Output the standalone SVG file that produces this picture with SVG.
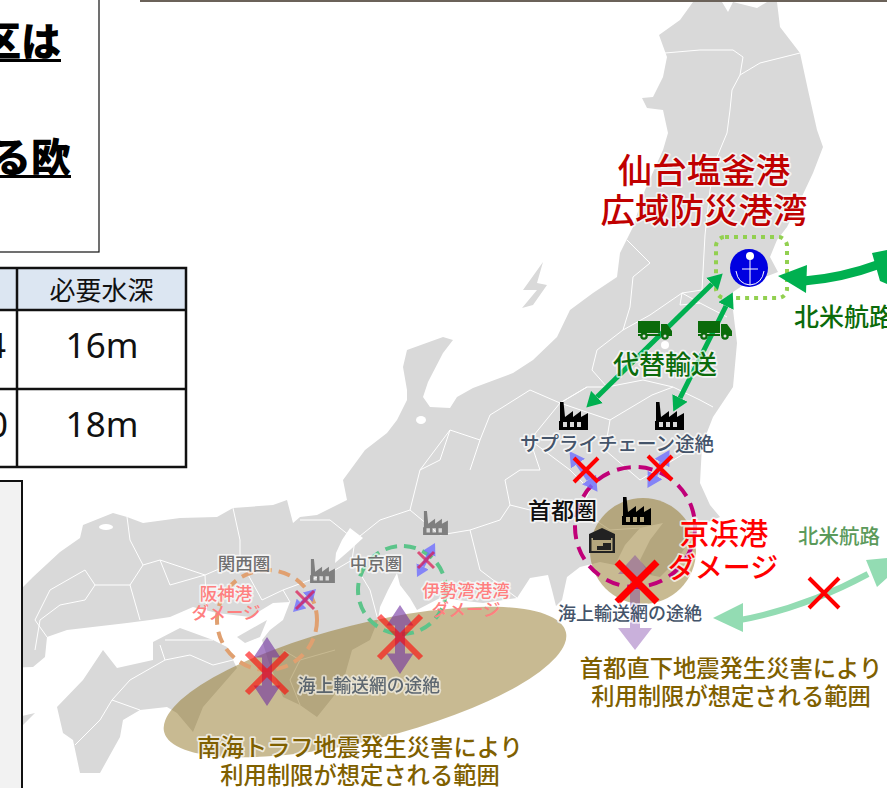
<svg xmlns="http://www.w3.org/2000/svg" width="887" height="788" viewBox="0 0 887 788">
<style>
text{font-family:"Noto Sans CJK JP","Noto Sans",sans-serif}
#labels text{font-weight:500}
.h{paint-order:stroke;stroke:#fff;stroke-opacity:.7;stroke-width:3.500px;stroke-linejoin:round}
.pref{fill:none;stroke:#fff;stroke-width:1;stroke-linejoin:round}
.tb{stroke:#111;stroke-width:2.5;fill:none}
.red{fill:#c00000;font-size:34.500px}
.dg{fill:#0b6b0b}
.sl{fill:#44546a}
.br{fill:#7f6000;font-size:23.300px}
.pk{fill:#ff7f7f;font-size:17.500px}
.gy{fill:#6f6f6f;font-size:17.500px}
.x{stroke:#f00;fill:none}
.ga{stroke:#00b050;stroke-width:5;fill:none;marker-start:url(#mg);marker-end:url(#mg)}
.ba{stroke:#6f6fff;stroke-width:5;fill:none;marker-start:url(#mb);marker-end:url(#mb)}
.ba.s{stroke-width:4}
</style>
<defs>
<filter id="soft" x="-2%" y="-2%" width="104%" height="104%"><feGaussianBlur stdDeviation=".5"/></filter>
<marker id="mg" viewBox="0 0 3 3.4" refX="0" refY="1.7" markerWidth="3" markerHeight="3.4" orient="auto-start-reverse"><path d="M0 0L3 1.7L0 3.4Z" fill="#00b050"/></marker>
<marker id="mb" viewBox="0 0 3 3.4" refX="0" refY="1.7" markerWidth="3" markerHeight="3.4" orient="auto-start-reverse"><path d="M0 0L3 1.7L0 3.4Z" fill="#6f6fff"/></marker>
<symbol id="factory" viewBox="0 0 29 28" overflow="visible"><path fill-rule="evenodd" d="M1 0H4.500L6 15L14 9V15L22 9V15L29 11V28H0V19H1ZM4 20V25H8V20ZM11 20V25H15V20ZM18 20V25H22V20Z"/></symbol>
<symbol id="truck" viewBox="0 0 34 19" overflow="visible"><path d="M0 0H22V12H0ZM0 13H22V15H0ZM23 3H29L34 10V15H23Z"/><circle cx="6" cy="15" r="3.800"/><circle cx="27" cy="15" r="3.800"/><circle cx="6" cy="15" r="1.500" fill="#ddd"/><circle cx="27" cy="15" r="1.500" fill="#ddd"/></symbol>
<path id="dbl" d="M0 -34.500L13.500 -14H5V14H13.500L0 34.500L-13.500 14H-5V-14H-13.500Z"/>
</defs>
<rect id="topbar" x="140" y="0" width="747" height="2" fill="#6b6259"/>
<g id="map" filter="url(#soft)">
<path fill="#d9d9d9" d="M693 2L722 2L728 12L733 2L757 8L767 2L777 2L780 27L800 53L808 90L817 130L823 147L813 173L797 207L787 227L777 240L770 257L778 272L765 277L745 284L733 292L733 310L737 343L733 387L713 417L702 445L700 483L710 505L720 517L697 527L690 540L677 560L660 577L650 575L640 560L650 540L663 523L640 528L625 545L615 565L600 562L580 567L567 577L562 600L556 606L552 590L548 575L530 578L517 598L483 603L440 598L417 610L410 598L400 585L397 573L388 590L380 607L378 620L370 640L352 650L345 675L333 697L317 717L300 705L283 697L268 660L262 640L270 630L283 620L290 602L273 603L250 617L217 613L193 607L170 617L150 620L127 623L67 630L47 637L45 657L33 667L0 668L0 590L23 587L33 577L60 552L80 538L83 525L113 513L127 517L143 523L180 518L217 517L233 508L273 505L287 500L293 523L300 517L317 515L347 500L343 480L365 450L387 433L397 420L407 400L407 390L403 367L407 350L443 337L453 340L443 353L428 382L423 397L430 407L450 408L457 397L473 388L513 373L533 360L557 337L570 310L593 293L617 277L620 253L633 227L645 190L663 150L668 133L663 110L647 108L642 98L653 97L663 77L667 57L659 35L680 20Z"/>
<path fill="#d9d9d9" d="M103 650L117 668L153 660L153 642L180 628L213 640L227 647L233 660L237 668L203 707L193 732L177 713L167 707L140 710L123 720L120 737L100 773L80 773L73 740L63 733L57 707L83 680Z"/>
<path fill="#d9d9d9" d="M237 637L267 620L260 637L245 643Z"/>
<path fill="#d9d9d9" d="M543 262L523 290L537 290L522 308L533 305L547 285L537 283Z"/>
<path fill="#d9d9d9" d="M22 716L35 713L22 726Z"/>
<path fill="#fff" d="M350 528L363 538L350 550L335 563L336 553L342 540Z"/>
<ellipse cx="106" cy="527" rx="7" ry="3" fill="#fff"/>
<ellipse cx="421" cy="420" rx="5" ry="4" fill="#fff"/>
<ellipse cx="665" cy="345" rx="4" ry="4" fill="#fff"/>
<path class="pref" d="M665 53L700 50L733 50L743 57L740 75L760 63L800 53M740 75L732 90L730 110L727 133L717 157L710 190L705 235L702 290L682 293L700 303L727 317M682 293L680 305L700 303M627 240L650 263L633 277L630 307L623 330L597 350L592 370L607 387L643 380L673 387L700 400L713 407M623 330L650 315L682 293M607 387L587 387L560 403L530 390L503 407L490 415L480 440L470 470M587 387L560 403L530 440L540 470L520 470L505 480L510 505M560 403L610 420L605 450L640 480M610 420L652 395L673 387M640 480L690 450M530 440L570 470L590 490L580 510M480 440L450 430L440 460L420 470L410 510M450 430L420 470M410 510L440 535L470 530L480 570L517 598M470 530L500 520L510 505L530 510L580 510L610 530L640 528M410 510L380 520L355 540L352 560L370 590L378 620M352 560L335 570L310 580L283 590L262 600M283 590L290 602M355 540L330 520L300 520M262 600L240 560L240 540L233 508M240 560L205 575L207 620M205 575L170 585L160 560L143 565L130 540L127 517M143 565L130 585L140 620M160 560L205 575M130 585L95 585L85 600L60 605L40 620L35 650M35 620L47 637M95 585L85 570L50 590L35 620M165 640L213 640M160 645L165 660L190 655L213 665L233 660M165 660L130 680L112 700L100 720L75 745M112 700L140 710M283 650L300 660L290 680L300 705M300 660L335 650"/>
</g>
<g id="zones">
<ellipse id="nankai-zone" cx="365" cy="682" rx="207" ry="58" transform="rotate(-14 365 682)" fill="#8a6c17" fill-opacity=".47"/>
<circle id="tokyo-zone" cx="643" cy="551" r="53" fill="#8a6c17" fill-opacity=".47"/>
<circle id="keihin-ring" cx="635" cy="527" r="60" fill="none" stroke="#c00078" stroke-width="4" stroke-dasharray="14 8"/>
<circle id="hanshin-ring" cx="267" cy="620" r="50" fill="none" stroke="#e0a070" stroke-width="4" stroke-dasharray="12 7"/>
<circle id="ise-ring" cx="402" cy="590" r="44" fill="none" stroke="#5cc48a" stroke-width="4" stroke-dasharray="12 7"/>
<rect id="sendai-ring" x="716" y="237" width="71" height="61" rx="9" fill="none" stroke="#92d050" stroke-width="4" stroke-dasharray="4 5"/>
</g>
<g id="connectors">
<path class="ga" d="M712 284L597 397"/>
<path class="ga" d="M726 306L680 398"/>
<path d="M804 281Q842 278 880 264" fill="none" stroke="#00b050" stroke-width="9"/>
<path d="M778 276L807 265L806 293Z" fill="#00b050"/>
<path d="M872 253L887 250V284L880 281Z" fill="#00b050"/>
<path d="M740 620Q805 608 868 574" fill="none" stroke="#93dcb3" stroke-width="6"/>
<path d="M713 618L743 603L743 632Z" fill="#93dcb3"/>
<path d="M866 560L887 558V578L877 587Z" fill="#93dcb3"/>
<g opacity=".8">
<path class="ba" d="M578 463.500L589 479.500"/>
<path class="ba" d="M662 463L655 475"/>
<path class="ba s" d="M301.500 603.500L307.500 597.500"/>
<path class="ba s" d="M422.600 566.400L429.400 553.600"/>
</g>
<use href="#dbl" transform="translate(267 671.500)" fill="#7030a0" fill-opacity=".6"/>
<use href="#dbl" transform="translate(400 639.500)" fill="#7030a0" fill-opacity=".6"/>
<path id="tokyo-sea-arrow" d="M635 555L652 574H640V628H652L635 650L618 628H630V574H618Z" fill="#7030a0" fill-opacity=".38"/>
</g>
<g id="crosses">
<path class="x" stroke-width="7" d="M617 562L657 602M657 562L617 602"/>
<path class="x" stroke-width="4" d="M574 458L598 482M598 458L574 482"/>
<path class="x" stroke-width="4" d="M648 456L672 480M672 456L648 480"/>
<path class="x" stroke-width="4" d="M809 578L839 608M839 578L809 608"/>
<path class="x" stroke-width="6" opacity=".6" d="M247 653L287 693M287 653L247 693"/>
<path class="x" stroke-width="6" opacity=".6" d="M379 616L421 658M421 616L379 658"/>
<path stroke="#dc1450" fill="none" stroke-width="3" opacity=".7" d="M296 591L314 609M314 591L296 609"/>
<path stroke="#dc1450" fill="none" stroke-width="3" opacity=".7" d="M418 552L434 568M434 552L418 568"/>
</g>
<g id="port-sendai">
<circle cx="749" cy="268" r="19" fill="#0000e0"/>
<circle cx="750" cy="256" r="4" fill="#fff"/>
<path d="M750 258V285M742 269H758M736 271Q738 284 750 285Q762 284 764 271" fill="none" stroke="#fff" stroke-width="1"/>
</g>
<g id="factories">
<use href="#factory" x="559" y="402" width="29" height="28"/>
<use href="#factory" x="655" y="402" width="29" height="28"/>
<use href="#factory" x="622" y="497" width="29" height="28"/>
<use href="#factory" x="423" y="511" width="25" height="24" fill="#7f7f7f"/>
<use href="#factory" x="310" y="559" width="25" height="24" fill="#7f7f7f"/>
</g>
<g id="warehouse"><path fill="#222" fill-rule="evenodd" d="M589 534L602 528L615 534V553H589ZM591.500 538V551H612.500V538ZM593 540H611V538H593ZM603 543H611V550H597V546H603Z"/></g>
<g id="trucks" fill="#0b6b0b">
<use href="#truck" x="638" y="321" width="34" height="19"/>
<use href="#truck" x="698" y="321" width="34" height="19"/>
</g>
<g id="labels">
<text class="red h" x="704" y="183" text-anchor="middle">仙台塩釜港</text>
<text class="red h" x="704" y="223" text-anchor="middle">広域防災港湾</text>
<text class="dg h" x="794" y="326" font-size="25">北米航路</text>
<text class="dg h" x="665" y="374" font-size="26" text-anchor="middle">代替輸送</text>
<text class="sl h" x="617" y="451" font-size="19.500" text-anchor="middle">サプライチェーン途絶</text>
<text class="h" x="528" y="519" font-size="23" fill="#111">首都圏</text>
<text class="h" x="724" y="544" font-size="29.500" fill="#f00" text-anchor="middle">京浜港</text>
<text class="h" x="723" y="578" font-size="28" fill="#f00" text-anchor="middle">ダメージ</text>
<text x="839" y="544" font-size="20.500" fill="#5b9a5b" text-anchor="middle">北米航路</text>
<text class="sl h" x="630" y="620" font-size="18" text-anchor="middle">海上輸送網の途絶</text>
<text class="br h" x="731" y="677" text-anchor="middle">首都直下地震発生災害により</text>
<text class="br h" x="731" y="705" text-anchor="middle">利用制限が想定される範囲</text>
<text class="gy h" x="244" y="570" text-anchor="middle">関西圏</text>
<text class="gy h" x="376" y="570" text-anchor="middle">中京圏</text>
<text class="pk h" x="226" y="600" text-anchor="middle">阪神港</text>
<text class="pk" x="226" y="619" font-size="17" text-anchor="middle">ダメージ</text>
<text class="pk h" x="466" y="597" text-anchor="middle">伊勢湾港湾</text>
<text class="pk" x="466" y="616" text-anchor="middle">ダメージ</text>
<text class="sl h" x="369" y="692" font-size="17.800" text-anchor="middle" opacity=".8">海上輸送網の途絶</text>
<text class="br h" x="360" y="756" font-size="22" text-anchor="middle">南海トラフ地震発生災害により</text>
<text class="br h" x="360" y="784" text-anchor="middle">利用制限が想定される範囲</text>
</g>
<g id="title-box">
<rect x="-2" y="-2" width="101" height="254" fill="#fff" stroke="#111" stroke-width="1.200"/>
<text x="61" y="56" font-size="40" font-weight="900" text-anchor="end" fill="#000">区は</text>
<rect x="0" y="59" width="61" height="3" fill="#000"/>
<text x="71" y="172" font-size="40" font-weight="900" text-anchor="end" fill="#000">る欧</text>
<rect x="0" y="175" width="71" height="3" fill="#000"/>
</g>
<g id="table">
<rect x="-2" y="268" width="188" height="42" fill="#dce6f2"/>
<rect x="-2" y="310" width="188" height="157" fill="#fff"/>
<path class="tb" d="M-2 268H186V467H-2M-2 310H186M-2 389H186M17 268V467"/>
<text x="101.500" y="300" font-size="26" text-anchor="middle" fill="#111">必要水深</text>
<text x="102" y="358" font-size="35" text-anchor="middle" fill="#111" style="font-family:'Noto Sans',sans-serif">16m</text>
<text x="102" y="437" font-size="35" text-anchor="middle" fill="#111" style="font-family:'Noto Sans',sans-serif">18m</text>
<text x="6" y="358" font-size="35" text-anchor="end" fill="#111" style="font-family:'Noto Sans',sans-serif">4</text>
<text x="8" y="437" font-size="35" text-anchor="end" fill="#111" style="font-family:'Noto Sans',sans-serif">0</text>
</g>
<rect id="side-panel" x="-2" y="481" width="24" height="310" fill="#f2f2f2" stroke="#111" stroke-width="2"/>
</svg>
